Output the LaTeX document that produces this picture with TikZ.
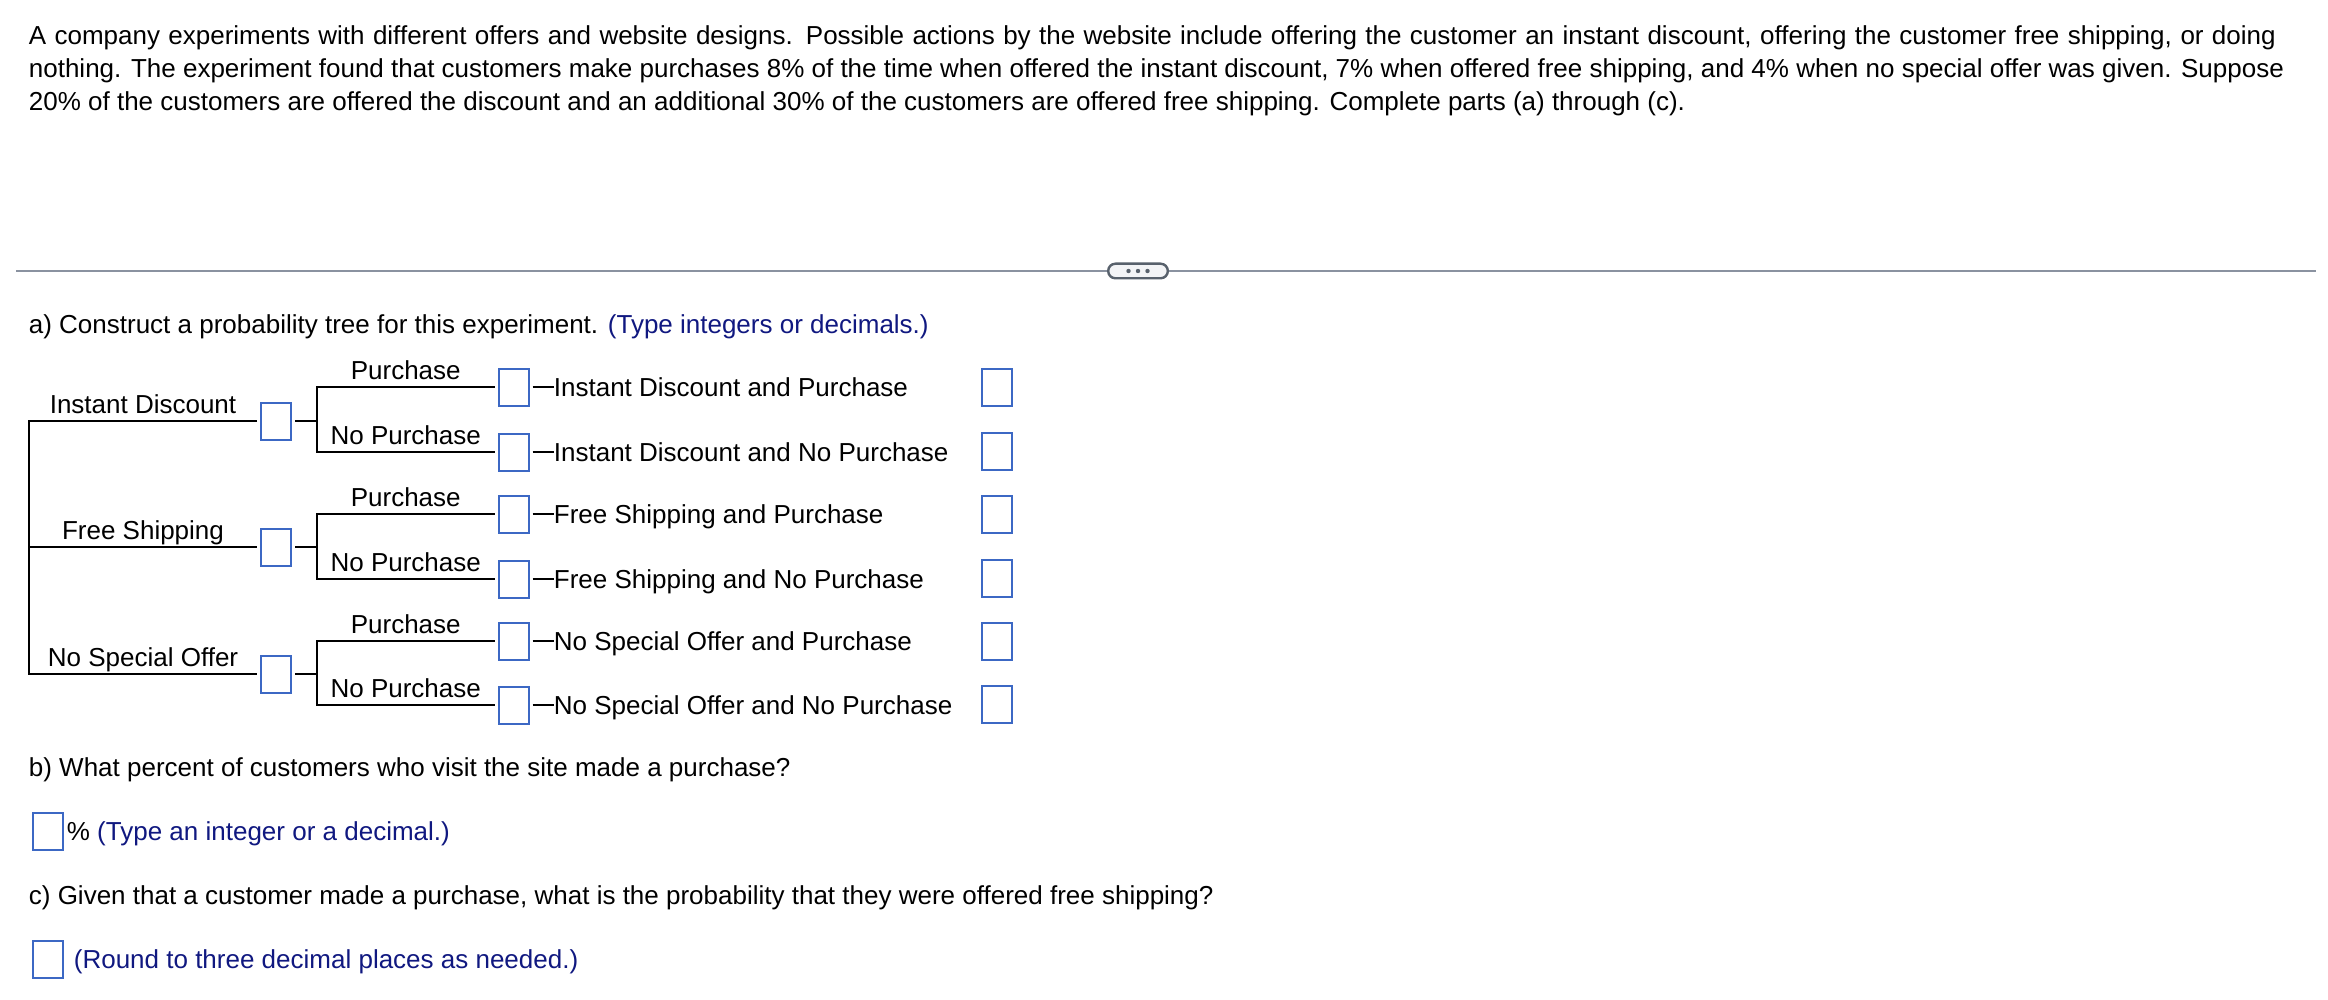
\documentclass[tikz,border=0pt]{standalone}
\usepackage{fontspec}
\setmainfont{Liberation Sans}[Ligatures=NoCommon]
\usepackage{xcolor}
\usepackage{tikz}
\usetikzlibrary{positioning}

\definecolor{boxblue}{RGB}{60,104,196}
\definecolor{hintblue}{RGB}{16,24,128}
\definecolor{rulegray}{RGB}{138,146,160}
\definecolor{pillgray}{RGB}{88,97,108}
\definecolor{pillfill}{RGB}{243,244,246}

\tikzset{
  ansbox/.style = {draw=boxblue, line width=1pt, minimum width=15pt, minimum height=18.5pt, inner sep=0pt, outer sep=2pt},
  branch/.style = {line width=1pt},
  lbl/.style = {inner sep=0pt, text depth=0pt, above=3.2pt},
  txt/.style = {inner sep=0pt, anchor=base west},
  outcome/.style = {inner sep=0pt, text height=9.3pt, text depth=0pt},
  pill/.style = {draw=pillgray, fill=pillfill, line width=1.2pt, rounded corners=3.6pt, minimum width=29.8pt, minimum height=7.3pt, inner sep=0pt},
  rule/.style = {draw=rulegray, line width=1pt},
}

\begin{document}
\begin{tikzpicture}[x=0.5pt, y=-0.5pt, font=\fontsize{13pt}{16.35pt}\selectfont]
    \useasboundingbox (0,0) rectangle (2328,1000);
    % testo del problema
    \node (l1) at (28.5,44.7) [txt] {\hbox to 1123.5pt{A company experiments with different offers and website designs. Possible actions by the website include offering the customer an instant discount, offering the customer free shipping, or doing}};
    \node (l2) at (28.5,77.5) [txt] {nothing. The experiment found that customers make purchases 8\% of the time when offered the instant discount, 7\% when offered free shipping, and 4\% when no special offer was given. Suppose};
    \node (l3) at (28.5,110.3) [txt] {20\% of the customers are offered the discount and an additional 30\% of the customers are offered free shipping. Complete parts (a) through (c).};

    % separatore
    \coordinate (sepL) at (16,271);
    \coordinate (sepR) at (2316,271);
    \node (pill) at (1138,271) [pill] {};
    \draw[rule] (sepL) -- (pill.west);
    \draw[rule] (pill.east) -- (sepR);
    \fill[pillgray] (pill.center) circle (1.1pt) +(-9.5,0) circle (1.1pt) +(9.5,0) circle (1.1pt);

    % parte a)
    \node (qa) at (28.5,333) [txt] {a) Construct a probability tree for this experiment. \textcolor{hintblue}{(Type integers or decimals.)}};

    % caselle del primo livello
    \coordinate (trunk) at (29,421);
    \coordinate (fork) at (317,421);
    \node (d1) at (276,421) [ansbox] {};
    \node (d2) at (276,547) [ansbox] {};
    \node (d3) at (276,674) [ansbox] {};

    % caselle del secondo livello
    \node (p1) at (513.5,387) [ansbox] {};
    \node (q1) at (513.5,452) [ansbox] {};
    \node (p2) at (513.5,514) [ansbox] {};
    \node (q2) at (513.5,579) [ansbox] {};
    \node (p3) at (513.5,641) [ansbox] {};
    \node (q3) at (513.5,705) [ansbox] {};

    % esiti
    \node (o1) [outcome, right=10.5pt of p1, anchor=west] {Instant Discount and Purchase};
    \node (o2) [outcome, right=10.5pt of q1, anchor=west] {Instant Discount and No Purchase};
    \node (o3) [outcome, right=10.5pt of p2, anchor=west] {Free Shipping and Purchase};
    \node (o4) [outcome, right=10.5pt of q2, anchor=west] {Free Shipping and No Purchase};
    \node (o5) [outcome, right=10.5pt of p3, anchor=west] {No Special Offer and Purchase};
    \node (o6) [outcome, right=10.5pt of q3, anchor=west] {No Special Offer and No Purchase};

    % caselle delle probabilita congiunte
    \node (r1) at (997,387) [ansbox] {};
    \node (r2) at (997,451) [ansbox] {};
    \node (r3) at (997,514) [ansbox] {};
    \node (r4) at (997,578) [ansbox] {};
    \node (r5) at (997,641) [ansbox] {};
    \node (r6) at (997,704) [ansbox] {};

    % rami del primo livello
    \draw[branch] (d1.west) -- node[lbl] {Instant Discount} (d1.west -| trunk)
        -- (d3.west -| trunk) -- node[lbl] {No Special Offer} (d3.west);
    \draw[branch] (d2.west -| trunk) -- node[lbl] {Free Shipping} (d2.west);
    \draw[branch] (d1.east) -- (d1.east -| fork);
    \draw[branch] (d2.east) -- (d2.east -| fork);
    \draw[branch] (d3.east) -- (d3.east -| fork);

    % rami del secondo livello
    \draw[branch] (p1.west) -- node[lbl] {Purchase} (p1.west -| fork)
        -- (q1.west -| fork) -- node[lbl] {No Purchase} (q1.west);
    \draw[branch] (p2.west) -- node[lbl] {Purchase} (p2.west -| fork)
        -- (q2.west -| fork) -- node[lbl] {No Purchase} (q2.west);
    \draw[branch] (p3.west) -- node[lbl] {Purchase} (p3.west -| fork)
        -- (q3.west -| fork) -- node[lbl] {No Purchase} (q3.west);

    % trattini verso gli esiti
    \draw[branch] (p1.east) -- (o1.west);
    \draw[branch] (q1.east) -- (o2.west);
    \draw[branch] (p2.east) -- (o3.west);
    \draw[branch] (q2.east) -- (o4.west);
    \draw[branch] (p3.east) -- (o5.west);
    \draw[branch] (q3.east) -- (o6.west);

    % parte b)
    \node (qb) at (28.5,776) [txt] {b) What percent of customers who visit the site made a purchase?};
    \node (bb) at (47.5,831) [ansbox] {};
    \node (hb) [outcome, right=0pt of bb, anchor=west] {\%~\textcolor{hintblue}{(Type an integer or a decimal.)}};

    % parte c)
    \node (qc) at (28.5,904) [txt] {c) Given that a customer made a purchase, what is the probability that they were offered free shipping?};
    \node (bc) at (47.5,959) [ansbox] {};
    \node (hc) [outcome, right=3.5pt of bc, anchor=west] {\textcolor{hintblue}{(Round to three decimal places as needed.)}};
\end{tikzpicture}
\end{document}
